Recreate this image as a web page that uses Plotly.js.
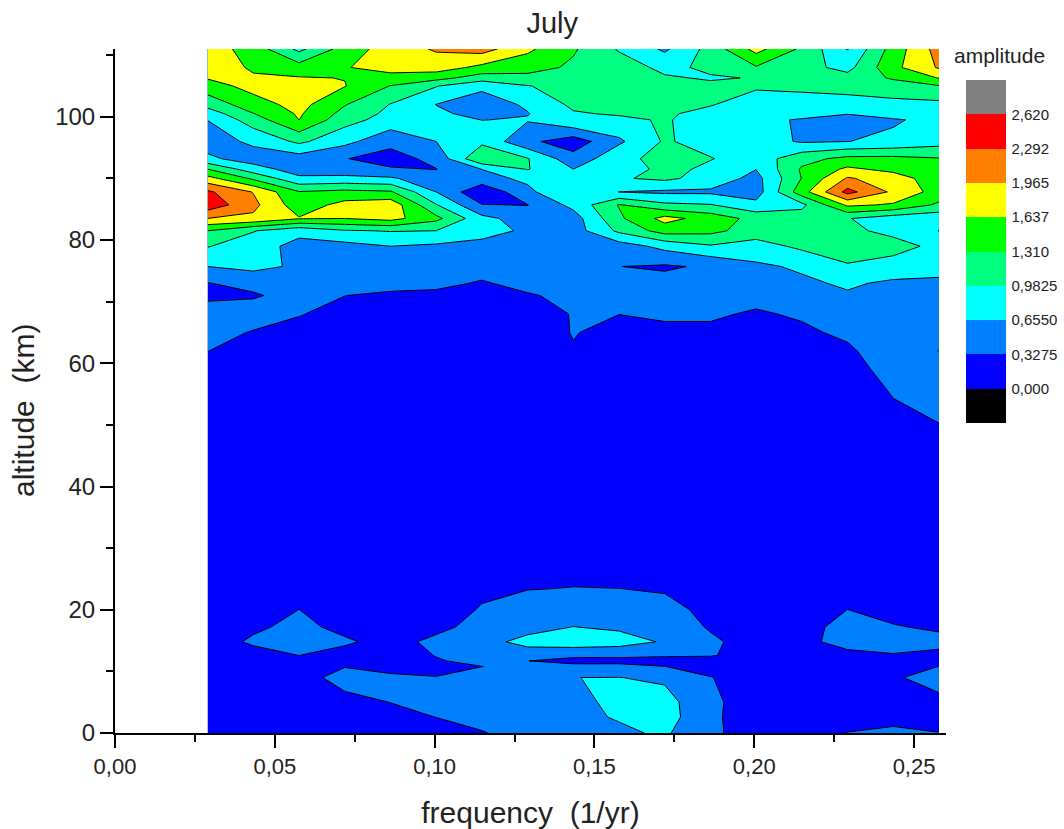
<!DOCTYPE html>
<html>
<head>
<meta charset="utf-8">
<script src="https://cdn.plot.ly/plotly-3.0.1.min.js"></script>
<style>html,body{margin:0;padding:0;background:#fff}#chart{width:1064px;height:829px}</style>
</head>
<body>
<div id="chart"></div>
<script>
const frequency = [0.029,0.0433,0.0576,0.0719,0.0862,0.1005,0.1148,0.1291,0.1434,0.1577,0.172,0.1863,0.2006,0.2149,0.2292,0.2435,0.2578];
const altitude = [0,2.6,5,9,10.8,11.7,12.6,14.8,17.2,20,23.4,27,32,40,50,55,59,62,65,68,71,73,75.7,79,81.5,83.5,85.7,87.8,90,91.5,93.2,96,99.5,100.5,102,105,106.3,108,111];
const amplitude = [
[.1,.1,.12,.15,.2,.25,.31,.45,.5,.6,.7,.38,.2,.2,.335,.36,.33],
[.09,.09,.11,.2,.27,.33,.42,.5,.58,.68,.8,.38,.18,.15,.2,.28,.28],
[.08,.08,.1,.27,.33,.4,.5,.55,.55,.75,.78,.38,.2,.15,.15,.25,.25],
[.08,.1,.25,.4,.4,.34,.42,.55,.654,.66,.6,.34,.15,.1,.15,.29,.45],
[.08,.1,.15,.32,.2,.22,.325,.4,.4,.4,.33,.2,.1,.1,.1,.2,.33],
[.1,.12,.2,.25,.15,.3,.42,.33,.25,.25,.22,.15,.1,.15,.15,.25,.28],
[.1,.15,.33,.15,.15,.34,.45,.5,.38,.38,.36,.36,.15,.2,.2,.3,.25],
[.1,.4,.6,.4,.15,.45,.55,.75,.85,.8,.62,.38,.2,.2,.5,.5,.42],
[.1,.25,.45,.2,.12,.2,.5,.55,.66,.6,.5,.3,.12,.2,.45,.35,.28],
[.08,.15,.33,.12,.1,.12,.36,.45,.5,.45,.42,.25,.1,.15,.33,.22,.18],
[.07,.1,.14,.1,.1,.12,.25,.32,.335,.33,.3,.18,.1,.1,.14,.14,.12],
[.06,.08,.1,.08,.08,.1,.16,.2,.25,.22,.2,.14,.09,.08,.1,.1,.1],
[.06,.07,.08,.07,.07,.08,.1,.12,.14,.12,.12,.1,.08,.07,.08,.09,.1],
[.08,.07,.07,.06,.06,.06,.07,.08,.09,.08,.08,.08,.07,.07,.08,.12,.18],
[.15,.12,.1,.08,.07,.06,.06,.07,.08,.08,.09,.1,.1,.1,.12,.25,.32],
[.18,.15,.12,.1,.08,.08,.07,.08,.1,.1,.12,.12,.12,.12,.15,.34,.45],
[.22,.2,.15,.12,.1,.08,.08,.1,.15,.15,.15,.15,.15,.15,.2,.45,.6],
[.33,.25,.2,.15,.12,.1,.08,.12,.31,.2,.2,.2,.2,.2,.28,.5,.66],
[.42,.31,.25,.2,.18,.15,.1,.18,.34,.25,.28,.28,.25,.28,.38,.55,.6],
[.5,.45,.34,.25,.22,.2,.12,.22,.34,.33,.36,.36,.3,.36,.5,.5,.5],
[.25,.3,.42,.33,.28,.26,.15,.3,.4,.45,.42,.42,.4,.55,.62,.55,.5],
[.32,.4,.45,.45,.42,.4,.3,.42,.45,.5,.42,.45,.6,.6,.7,.6,.55],
[.655,.75,.6,.5,.5,.45,.45,.45,.45,.33,.29,.37,.6,.7,.95,.85,.85],
[1.0,.8,.55,.55,.655,.6,.55,.5,.45,.5,.75,.95,.85,1.05,1.15,1.1,.9],
[1.31,1.0,.75,.95,1.0,.98,.78,.6,.5,1.05,1.45,1.4,1.15,1.1,1.05,.9,.65],
[1.965,1.9,1.66,1.64,1.75,1.4,.75,.5,.5,1.25,1.75,1.5,1.2,1.15,1.0,.8,.75],
[2.5,2.05,1.45,1.75,1.85,1.0,.34,.32,.75,1.33,1.05,1.0,.75,.9,1.7,1.6,1.25],
[2.35,1.95,1.33,1.4,1.35,.655,.05,.58,.97,.65,.6,.6,.5,1.5,2.4,1.9,1.5],
[1.75,1.25,.72,.75,.7,.45,.55,.72,.8,.95,1.05,.85,.55,1.32,2.0,1.8,1.45],
[1.31,.8,.5,.45,.36,.32,.66,1.0,.655,.75,1.1,.9,.66,1.35,1.7,1.55,1.4],
[.72,.5,.5,.34,.2,.42,1.3,1.0,.45,.88,1.1,1.0,.8,1.2,1.4,1.4,1.33],
[.5,.72,1.05,.75,.42,.655,.9,.4,.15,.6,1.02,.85,.8,.62,.65,.72,.85],
[.66,1.15,1.64,1.1,.85,.8,.65,.68,.95,.9,1.02,.8,.75,.62,.5,.62,.75],
[.8,1.3,1.68,1.2,.9,.7,.58,.64,.95,1.02,1.02,.9,.8,.8,.67,.8,.8],
[1.1,1.5,1.75,1.33,.97,.65,.5,.7,1.05,1.1,1.05,1.0,.85,.85,.85,.9,.9],
[1.5,1.75,1.85,1.65,1.3,1.0,.72,.97,1.1,1.15,1.15,1.05,1.02,1.05,1.1,1.15,1.29],
[1.66,1.67,1.66,1.63,1.53,1.42,1.15,1.2,1.18,1.15,1.02,.95,1.0,1.08,1.1,1.35,1.65],
[1.8,1.6,1.45,1.62,1.75,1.8,1.55,1.45,1.25,1.15,.9,1.05,1.28,1.1,.88,1.55,2.0],
[1.8,1.5,.9,1.45,1.8,2.0,2.1,1.7,1.35,.95,.6,1.1,1.75,1.25,.64,1.45,2.1]
];
const levelTicks = [0,0.3275,0.655,0.9825,1.31,1.6375,1.965,2.2925,2.62];
const levelLabels = ["0,000","0,3275","0,6550","0,9825","1,310","1,637","1,965","2,292","2,620"];
const bandColors = ["#000000","#0000ff","#0080ff","#00ffff","#00ff80","#00ff00","#ffff00","#ff8000","#ff0000","#808080"];

const step = 0.3275, zLow = -step, zHigh = 2.62 + step;
const scale = [];
bandColors.forEach((c, i) => {
  scale.push([i / bandColors.length, c]);
  scale.push([(i + 1) / bandColors.length, c]);
});
const font = "Liberation Sans, Arial, sans-serif";

const fillTrace = {
  type: "contour", x: frequency, y: altitude, z: amplitude,
  autocontour: false, zmin: zLow, zmax: zHigh, zauto: false,
  contours: {start: zLow, end: zHigh, size: step, coloring: "fill", showlines: false},
  line: {smoothing: 0, width: 0},
  colorscale: scale, hoverinfo: "skip",
  colorbar: {
    thickness: 40, thicknessmode: "pixels", len: 343, lenmode: "pixels",
    x: 1.0241, xanchor: "left", xpad: 0, y: 0.9547, yanchor: "top", ypad: 0,
    outlinewidth: 0, borderwidth: 0, ticks: "outside", ticklen: 3, tickwidth: 1, tickcolor: "rgba(0,0,0,0)",
    tickmode: "array", tickvals: levelTicks, ticktext: levelLabels,
    tickfont: {family: font, size: 15, color: "#222"}
  }
};
const lineTrace = {
  type: "contour", x: frequency, y: altitude, z: amplitude,
  autocontour: false, showscale: false,
  contours: {start: step, end: 2.62, size: step, coloring: "none"},
  line: {color: "#000", width: 1, smoothing: 0}, hoverinfo: "skip"
};
const axisBase = {
  showgrid: false, zeroline: false, showline: true, linecolor: "#000", linewidth: 2,
  ticks: "outside", ticklen: 13, tickwidth: 2, tickcolor: "#000"
};
const layout = {
  width: 1064, height: 829, paper_bgcolor: "#fff", plot_bgcolor: "#fff",
  separators: ", ",
  margin: {l: 115, r: 118, t: 49, b: 96, pad: 0, autoexpand: false},
  showlegend: false,
  title: {text: "July", font: {family: font, size: 29, color: "#222"}, x: 0.519, xanchor: "center", y: 0.973, yanchor: "middle"},
  xaxis: Object.assign({}, axisBase, {
    range: [0, 0.26], tick0: 0, dtick: 0.05, tickformat: ".2f",
    tickfont: {family: font, size: 22, color: "#222"},
    minor: {dtick: 0.025, ticks: "outside", ticklen: 7, tickwidth: 2, tickcolor: "#000", showgrid: false},
    title: {text: "frequency \u00A0(1/yr)", font: {family: font, size: 30, color: "#222"}, standoff: 24}
  }),
  yaxis: Object.assign({}, axisBase, {
    range: [0, 111], tick0: 0, dtick: 20,
    tickfont: {family: font, size: 24, color: "#222"},
    minor: {dtick: 10, ticks: "outside", ticklen: 7, tickwidth: 2, tickcolor: "#000", showgrid: false}
  }),
  annotations: [{
    text: "altitude \u00A0(km)", xref: "paper", yref: "paper", x: -0.1095, y: 0.4708, xanchor: "center", yanchor: "middle",
    textangle: -90, showarrow: false, font: {family: font, size: 30, color: "#222"}
  }, {
    text: "amplitude", xref: "paper", yref: "paper", x: 1.0638, y: 0.9898, xanchor: "center", yanchor: "middle",
    showarrow: false, font: {family: font, size: 21, color: "#222"}
  }]
};
Plotly.newPlot("chart", [fillTrace, lineTrace], layout, {displayModeBar: false, responsive: false});
</script>
</body>
</html>
